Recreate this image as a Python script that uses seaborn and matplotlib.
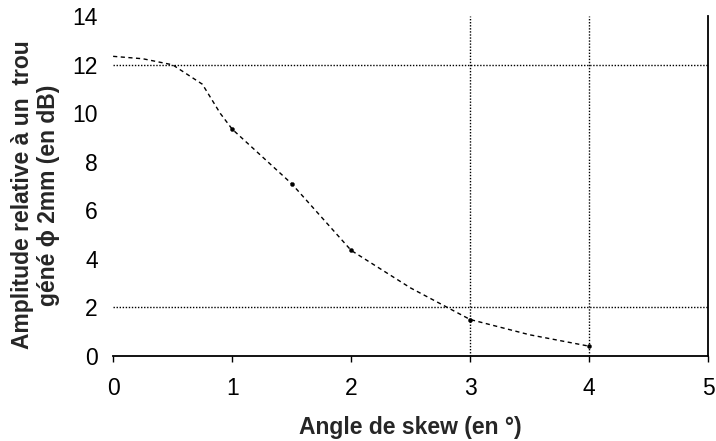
import pandas as pd
import seaborn as sns
import matplotlib.pyplot as plt

# courbe
angle = [0, 0.25, 0.5, 0.75, 0.9, 1, 1.5, 2, 2.5, 3, 3.5, 4]
amplitude = [12.35, 12.25, 12.0, 11.2, 10.0, 9.35, 7.1, 4.35, 2.8, 1.5, 0.87, 0.4]
# points mesures (marques)
pts_angle = [1, 1.5, 2, 3, 4]
pts_amp = [9.35, 7.1, 4.35, 1.5, 0.4]

x_ticks = [0, 1, 2, 3, 4, 5]
y_ticks = [0, 2, 4, 6, 8, 10, 12, 14]
grid_y = [2, 12]
grid_x = [3, 4]


def main():
    sns.set_style('white')
    plt.rcParams['font.family'] = ['Liberation Sans', 'DejaVu Sans']

    df = pd.DataFrame({'angle': angle, 'amp': amplitude})
    dp = pd.DataFrame({'angle': pts_angle, 'amp': pts_amp})

    fig = plt.figure(figsize=(7.16, 4.41), dpi=100)
    ax = fig.add_axes([0.158, 0.193, 0.831, 0.770])

    for g in grid_y:
        ax.axhline(g, color='black', lw=1.0, ls=(0, (1, 1.2)), zorder=1)
    for g in grid_x:
        ax.axvline(g, color='black', lw=1.0, ls=(0, (1, 1.2)), zorder=1)

    sns.lineplot(data=df, x='angle', y='amp', ax=ax, color='black',
                 lw=1.0, linestyle=(0, (3, 2.5)), zorder=3)
    sns.scatterplot(data=dp, x='angle', y='amp', ax=ax, color='black',
                    s=9, edgecolor='black', zorder=4)

    ax.set_xlim(0, 5)
    ax.set_ylim(0, 14)
    ax.set_xticks(x_ticks)
    ax.set_yticks(y_ticks)
    ax.tick_params(axis='x', labelsize=16.5, length=4, width=1, direction='out',
                   bottom=True, pad=11, colors='black')
    ax.tick_params(axis='y', labelsize=16.5, length=0, pad=11, colors='black')

    for s in ['top', 'left']:
        ax.spines[s].set_visible(False)
    for s in ['bottom', 'right']:
        ax.spines[s].set_color('black')
        ax.spines[s].set_linewidth(1.3)

    ax.set_xlabel('Angle de skew (en °)', fontsize=16.5, fontweight='bold',
                  va='center')
    ax.xaxis.set_label_coords(0.5, -0.212)
    ax.set_ylabel('Amplitude relative à un  trou\ngéné ϕ 2mm (en dB)',
                  fontsize=16.5, fontweight='bold', linespacing=1.15,
                  va='center', ha='center')
    ax.yaxis.set_label_coords(-0.13, 0.474)

    fig.savefig('out.png', dpi=100)


if __name__ == '__main__':
    main()
